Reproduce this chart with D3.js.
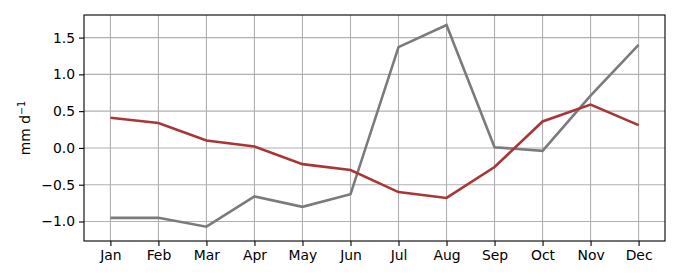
<!DOCTYPE html>
<html>
<head>
<meta charset="utf-8">
<script src="https://cdn.jsdelivr.net/npm/d3@7"></script>
<style>
  body { margin: 0; background: #fff; }
  svg { display: block; }
  svg text { font-family: "DejaVu Sans", sans-serif; }
</style>
</head>
<body>
<svg id="chart"></svg>
<script>
const months = ["Jan", "Feb", "Mar", "Apr", "May", "Jun", "Jul", "Aug", "Sep", "Oct", "Nov", "Dec"];
const redSeries = [0.41, 0.34, 0.10, 0.02, -0.22, -0.30, -0.60, -0.68, -0.26, 0.36, 0.59, 0.31];
const graySeries = [-0.95, -0.95, -1.07, -0.66, -0.80, -0.63, 1.37, 1.67, 0.01, -0.04, 0.71, 1.40];
const yTicks = [-1.0, -0.5, 0.0, 0.5, 1.0, 1.5];

const width = 680, height = 280;
const margin = { top: 15, right: 15, bottom: 39, left: 84 };

const svg = d3.select("#chart")
    .attr("width", width)
    .attr("height", height);

const x = d3.scaleLinear()
    .domain([-0.55, 11.55])
    .range([margin.left, width - margin.right]);

const y = d3.scaleLinear()
    .domain([-1.265, 1.807])
    .range([height - margin.bottom, margin.top]);

// grid
const grid = svg.append("g").attr("stroke", "#b0b0b0").attr("stroke-width", 1.1);
grid.selectAll("line.vx")
    .data(months)
    .enter().append("line")
    .attr("x1", (d, i) => x(i)).attr("x2", (d, i) => x(i))
    .attr("y1", margin.top).attr("y2", height - margin.bottom);
grid.selectAll("line.hy")
    .data(yTicks)
    .enter().append("line")
    .attr("x1", margin.left).attr("x2", width - margin.right)
    .attr("y1", d => y(d)).attr("y2", d => y(d));

// lines
const line = d3.line().x((d, i) => x(i)).y(d => y(d));
svg.append("path")
    .datum(graySeries)
    .attr("fill", "none")
    .attr("stroke", "#7b7b7b")
    .attr("stroke-width", 2.6)
    .attr("d", line);
svg.append("path")
    .datum(redSeries)
    .attr("fill", "none")
    .attr("stroke", "#a83636")
    .attr("stroke-width", 2.6)
    .attr("d", line);

// axes
const xAxis = d3.axisBottom(x)
    .tickValues(d3.range(months.length))
    .tickFormat(i => months[i])
    .tickSize(5).tickPadding(4);
const yAxis = d3.axisLeft(y)
    .tickValues(yTicks)
    .tickFormat(d => d3.format(".1f")(d).replace("-", "\u2212"))
    .tickSize(5).tickPadding(4);

const gx = svg.append("g")
    .attr("transform", `translate(0,${height - margin.bottom})`)
    .call(xAxis);
const gy = svg.append("g")
    .attr("transform", `translate(${margin.left},0)`)
    .call(yAxis);

[gx, gy].forEach(g => {
    g.attr("font-family", null).attr("font-size", null);
    g.select(".domain").remove();
    g.selectAll(".tick line").attr("stroke", "#000").attr("stroke-width", 1.1);
    g.selectAll(".tick text").attr("fill", "#000").style("font-size", "13.9px");
});

// frame
svg.append("rect")
    .attr("x", margin.left).attr("y", margin.top)
    .attr("width", width - margin.left - margin.right)
    .attr("height", height - margin.top - margin.bottom)
    .attr("fill", "none").attr("stroke", "#000").attr("stroke-width", 1.1);

// y label
const lab = svg.append("text")
    .attr("transform", `translate(30,${(margin.top + height - margin.bottom) / 2}) rotate(-90)`)
    .attr("text-anchor", "middle")
    .style("font-size", "13.9px");
lab.append("tspan").text("mm d");
lab.append("tspan").attr("dy", -5).style("font-size", "9.7px").text("\u22121");
</script>
</body>
</html>
